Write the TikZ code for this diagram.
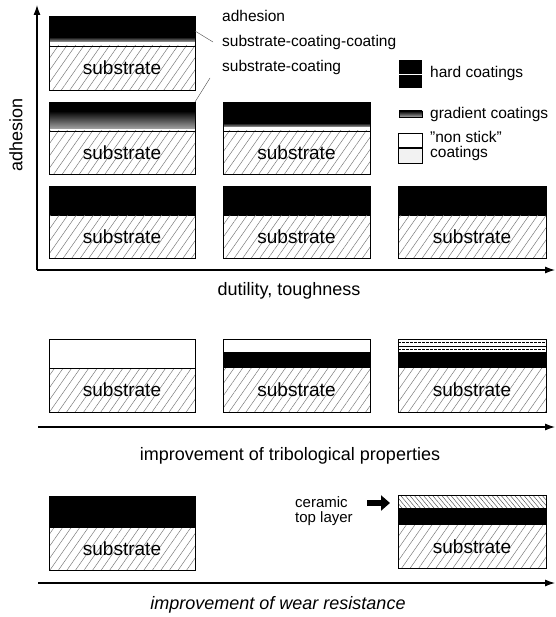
\documentclass[tikz,border=0pt]{standalone}
\usepackage{fontspec}
\setmainfont{Liberation Sans}
\usetikzlibrary{patterns.meta,arrows.meta}
\tikzset{
  boxline/.style={draw=black,line width=0.9pt},
  subfill/.style={pattern={Lines[angle=55,distance=7pt,line width=0.45pt]},pattern color=black!55},
  ceramicfill/.style={pattern={Lines[angle=-50,distance=3.5pt,line width=0.45pt]},pattern color=black!70},
  dotfill/.style={pattern={Dots[distance=2pt,radius=0.35pt]},pattern color=black!60},
  gradfill/.style={top color=black,bottom color=black!35},
  subtxt/.style={font=\fontsize{19}{19}\selectfont,inner sep=0pt},
  lbl/.style={font=\fontsize{15.5}{16}\selectfont,inner sep=0pt,anchor=base west},
  axlbl/.style={font=\fontsize{18}{18}\selectfont,inner sep=0pt},
  axis/.style={line width=1.1pt,-{Latex[length=10pt,width=7pt]}},
  leader/.style={line width=0.4pt,black!70},
}
\newcommand\substbox[5]{% name, x1, x2, ytop of substrate, ybottom
  \fill[subfill] (#2,#4) rectangle (#3,#5);
  \node[subtxt] (#1) at ({(#2+#3)/2},{(#4+#5)/2}) {substrate};
}
\begin{document}
\begin{tikzpicture}[x=1pt,y=-1pt]
\useasboundingbox (0,0) rectangle (555,617);
\fill[white] (0,0) rectangle (555,617);

% ---------- upper diagram ----------
% axes
\coordinate (orig) at (37,270);
\coordinate (ytop) at (37,5);
\coordinate (xend) at (555,270);
\draw[axis] (orig) -- (ytop);
\draw[axis] (orig) -- (xend);
\node[axlbl,rotate=90] (yl) at (16,135) {adhesion};
\node[axlbl] (xl) at (289,291) {dutility, toughness};

% row 1
\fill[black] (49,16) rectangle (195,37);
\shade[gradfill] (49,37) rectangle (195,42);
\substbox{s11}{49}{195}{46}{90}
\draw[line width=0.7pt] (49,46) -- (195,46);
\draw[boxline] (49,16) rectangle (195,90);

% row 2
\fill[black] (49,102) rectangle (195,111);
\shade[gradfill] (49,111) rectangle (195,129);
\substbox{s21}{49}{195}{131}{174}
\draw[line width=0.7pt] (49,131) -- (195,131);
\draw[boxline] (49,102) rectangle (195,174);

\fill[black] (223,102) rectangle (370,123);
\shade[gradfill] (223,123) rectangle (370,127);
\substbox{s22}{223}{370}{131}{174}
\draw[line width=0.7pt] (223,131) -- (370,131);
\draw[boxline] (223,102) rectangle (370,174);

% row 3
\fill[black] (49,186) rectangle (195,216);
\substbox{s31}{49}{195}{216}{258}
\draw[boxline] (49,186) rectangle (195,258);
\fill[black] (223,186) rectangle (370,216);
\substbox{s32}{223}{370}{216}{258}
\draw[boxline] (223,186) rectangle (370,258);
\fill[black] (398,186) rectangle (546,216);
\substbox{s33}{398}{546}{216}{258}
\draw[boxline] (398,186) rectangle (546,258);

% labels and leaders
\node[lbl] (ad) at (222,22) {adhesion};
\node[lbl] (scc) at (222,47) {substrate-coating-coating};
\node[lbl] (sc) at (222,72) {substrate-coating};
\coordinate (l1a) at (195,31);
\coordinate (l1b) at (213,42);
\draw[leader] (l1a) -- (l1b);
\coordinate (l2a) at (195,102);
\coordinate (l2b) at (210,78);
\draw[leader] (l2a) -- (l2b);

% legend
\fill[black] (399,60) rectangle (422,88);
\draw[white,line width=0.8pt] (399,74) -- (422,74);
\node[lbl] (lg1) at (430,78) {hard coatings};
\shade[gradfill] (399,111) rectangle (422,117);
\draw[line width=0.6pt] (399,111) rectangle (422,117);
\node[lbl] (lg2) at (430,119) {gradient coatings};
\draw[line width=0.7pt] (398,133) rectangle (422,147);
\fill[dotfill] (398,148) rectangle (422,163);
\draw[line width=0.7pt] (398,148) rectangle (422,163);
\node[lbl] (lg3) at (430,143) {\symbol{34}non stick\symbol{34}};
\node[lbl] (lg4) at (430,158) {coatings};

% ---------- tribological ----------
\substbox{t1}{49}{195}{368}{412}
\draw[line width=0.7pt] (49,368) -- (195,368);
\draw[boxline] (49,339) rectangle (195,412);

\fill[black] (223,352) rectangle (370,368);
\substbox{t2}{223}{370}{368}{412}
\draw[boxline] (223,339) rectangle (370,412);

\fill[black] (398,352) rectangle (546,368);
\draw[line width=0.6pt,dash pattern=on 3pt off 1pt] (398,342.5) -- (546,342.5);
\draw[line width=0.9pt] (398,346) -- (546,346);
\draw[line width=0.6pt,dash pattern=on 3pt off 1pt] (398,349.5) -- (546,349.5);
\substbox{t3}{398}{546}{368}{412}
\draw[boxline] (398,339) rectangle (546,412);

\coordinate (ta) at (38,427);
\coordinate (tb) at (555,427);
\draw[axis] (ta) -- (tb);
\node[axlbl] (tl) at (290,456) {improvement of tribological properties};

% ---------- wear ----------
\fill[black] (49,496) rectangle (195,528);
\substbox{w1}{49}{195}{528}{570}
\draw[boxline] (49,496) rectangle (195,570);

\fill[ceramicfill] (398,495) rectangle (546,508);
\fill[black] (398,508) rectangle (546,525);
\substbox{w2}{398}{546}{525}{568}
\draw[boxline] (398,495) rectangle (546,568);

\node[lbl,font=\fontsize{15}{15}\selectfont] (cer) at (295,507) {ceramic};
\node[lbl,font=\fontsize{15}{15}\selectfont] (top) at (295,522) {top layer};
\coordinate (fa) at (367,503);
\coordinate (fb) at (390,503);
\draw[line width=6pt,-{Triangle[length=9pt,width=15pt]}] (fa) -- (fb);

\coordinate (wa) at (38,583);
\coordinate (wb) at (555,583);
\draw[axis] (wa) -- (wb);
\node[axlbl,font=\fontsize{18}{18}\selectfont\itshape] (wl) at (278,605) {improvement of wear resistance};
\end{tikzpicture}
\end{document}
